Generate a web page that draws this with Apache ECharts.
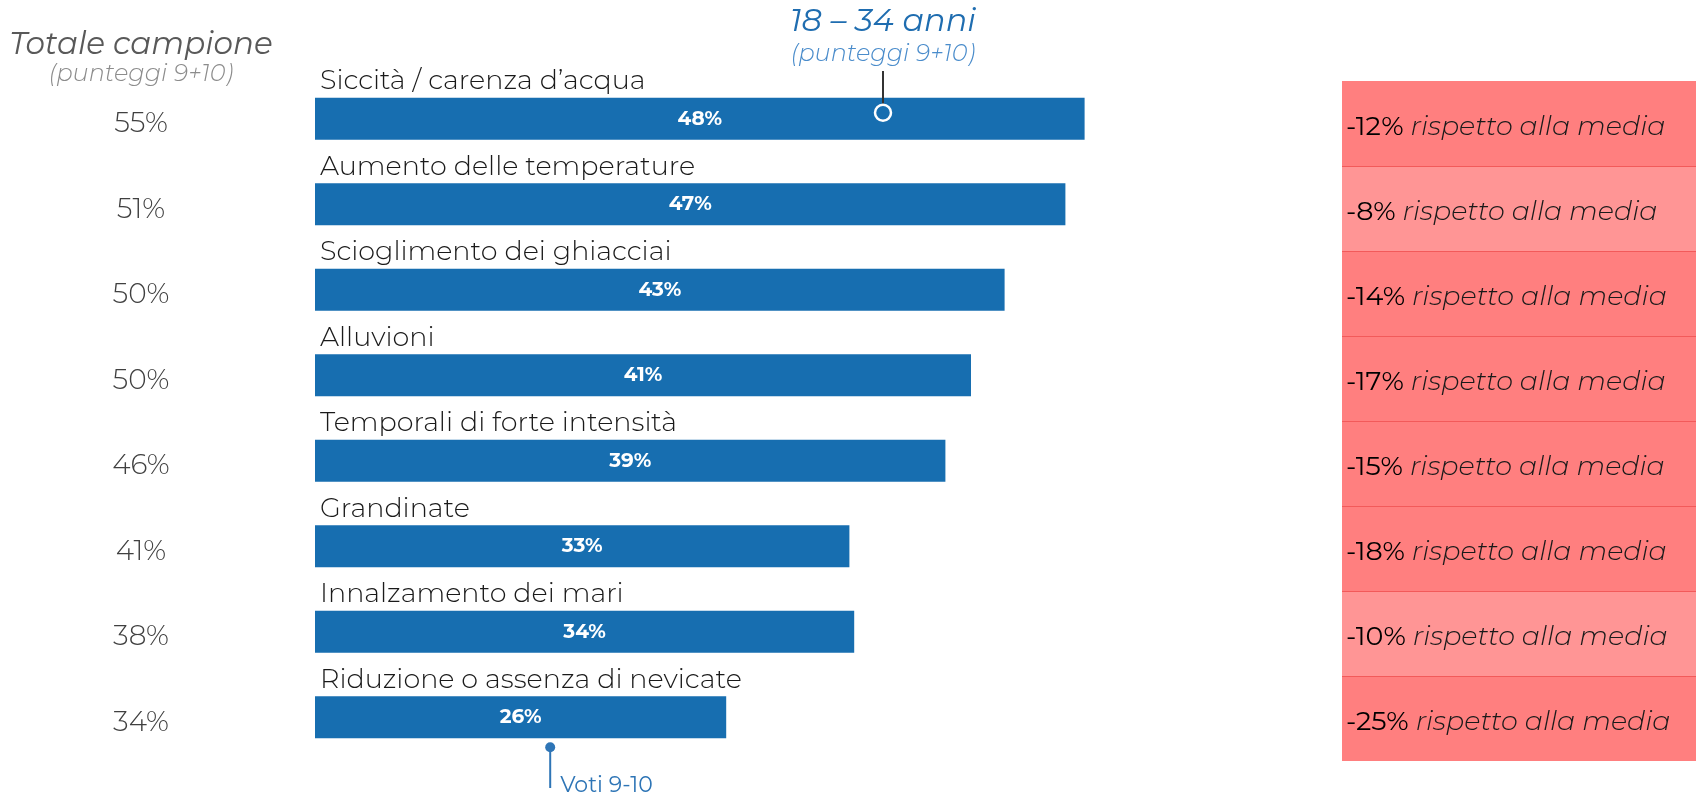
<!DOCTYPE html>
<html><head><meta charset="utf-8">
<script src="https://cdn.jsdelivr.net/npm/echarts@6/dist/echarts.min.js"></script>
<style>html,body{margin:0;padding:0;background:#fff}#c{width:1696px;height:792px}</style>
</head><body><div id="c"></div>
<script>
const categories = ["Siccità / carenza d’acqua","Aumento delle temperature","Scioglimento dei ghiacciai","Alluvioni","Temporali di forte intensità","Grandinate","Innalzamento dei mari","Riduzione o assenza di nevicate"];
const youthValues = [48.1,46.9,43.1,41.0,39.4,33.4,33.7,25.7];
const totalValues = [55,51,50,50,46,41,38,34];
const diffValues = [-12,-8,-14,-17,-15,-18,-10,-25];
const totalLabels = totalValues.map(v => v + '%');
const youthMarkerValue = 35.5;
const votiMarkerValue = 14.7;

const FONT = "Montserrat, 'Open Sans', sans-serif";
const BLUE = '#176eb0';

const chart = echarts.init(document.getElementById('c'));
chart.setOption({
  animation: false,
  backgroundColor: '#fff',
  grid: [
    {left: 315, top: 76, width: 800, height: 684},
    {left: 1342, right: 0, top: 81, height: 680}
  ],
  xAxis: [
    {gridIndex: 0, type: 'value', min: 0, max: 50, show: false},
    {gridIndex: 1, type: 'value', min: 0, max: 1, show: false}
  ],
  yAxis: [
    {gridIndex: 0, type: 'category', inverse: true, data: categories, position: 'left',
     axisLine: {show: false}, axisTick: {show: false}, splitLine: {show: false},
     axisLabel: {inside: true, margin: 5, verticalAlign: 'bottom', padding: [0,0,24,0],
       fontFamily: FONT, fontSize: 27, color: '#1a1a1a', fontWeight: 300}},
    {gridIndex: 0, type: 'category', inverse: true, data: totalLabels, position: 'left',
     axisLine: {show: false}, axisTick: {show: false}, splitLine: {show: false},
     axisLabel: {margin: 174, align: 'center', verticalAlign: 'middle',
       formatter: v => '{a|' + v + '}',
       rich: {a: {padding: [11,0,0,0], fontFamily: FONT, fontSize: 28, color: '#404040', fontWeight: 300}}}},
    {gridIndex: 1, type: 'category', inverse: true, data: categories, z: 5,
     axisLine: {show: false}, axisTick: {show: false}, axisLabel: {show: false},
     splitLine: {show: true, showMinLine: false, showMaxLine: false, lineStyle: {color: '#f25a5a', width: 1}}}
  ],
  series: [
    {type: 'bar', xAxisIndex: 0, yAxisIndex: 0, data: youthValues, barWidth: 42,
     itemStyle: {color: BLUE},
     label: {show: true, position: 'inside', formatter: p => Math.round(p.value) + '%', color: '#fff',
       fontFamily: FONT, fontWeight: 'bold', fontSize: 20}},
    {type: 'bar', xAxisIndex: 1, yAxisIndex: 2, barWidth: '100%',
     data: diffValues.map(d => ({value: 1, itemStyle: {color: d >= -10 ? '#ff9595' : '#ff7f7f'}})),
     label: {show: true, position: 'insideLeft', distance: 4, offset: [0, 4],
       formatter: p => '{n|' + diffValues[p.dataIndex] + '%}{t| rispetto alla media}',
       rich: {
         n: {fontFamily: FONT, fontSize: 27, color: '#000'},
         t: {fontFamily: FONT, fontSize: 27, color: '#1a1a1a', fontStyle: 'italic', fontWeight: 300}
       }}}
  ]
});

const pTop = chart.convertToPixel({gridIndex: 0}, [youthMarkerValue, 0]);
const pBot = chart.convertToPixel({gridIndex: 0}, [votiMarkerValue, categories.length - 1]);
chart.setOption({
  graphic: [
    {type: 'text', style: {x: 141, y: 45, text: 'Totale campione', align: 'center', verticalAlign: 'middle',
      font: 'italic 31px ' + FONT, fill: '#595959'}},
    {type: 'text', style: {x: 141, y: 74, text: '(punteggi 9+10)', align: 'center', verticalAlign: 'middle',
      font: 'italic 300 24px ' + FONT, fill: '#8c8c8c'}},
    {type: 'text', style: {x: pTop[0], y: 22, text: '18 – 34 anni', align: 'center', verticalAlign: 'middle',
      font: 'italic 32px ' + FONT, fill: '#1f6db0'}},
    {type: 'text', style: {x: pTop[0], y: 54, text: '(punteggi 9+10)', align: 'center', verticalAlign: 'middle',
      font: 'italic 300 24px ' + FONT, fill: '#4a8ccb'}},
    {type: 'line', shape: {x1: pTop[0], y1: 71, x2: pTop[0], y2: pTop[1] - 15}, style: {stroke: '#333', lineWidth: 2}, z: 10},
    {type: 'circle', shape: {cx: pTop[0], cy: pTop[1] - 6, r: 8}, style: {fill: BLUE, stroke: '#fff', lineWidth: 2.5}, z: 10},
    {type: 'line', shape: {x1: pBot[0], y1: pBot[1] + 30, x2: pBot[0], y2: 788}, style: {stroke: '#2e75b6', lineWidth: 2}, z: 10},
    {type: 'circle', shape: {cx: pBot[0], cy: pBot[1] + 30, r: 5}, style: {fill: '#2e75b6'}, z: 10},
    {type: 'text', style: {x: pBot[0] + 10, y: 786, text: 'Voti 9-10', align: 'left', verticalAlign: 'middle',
      font: '22px ' + FONT, fill: '#2e75b6'}, z: 10}
  ]
});
</script></body></html>
